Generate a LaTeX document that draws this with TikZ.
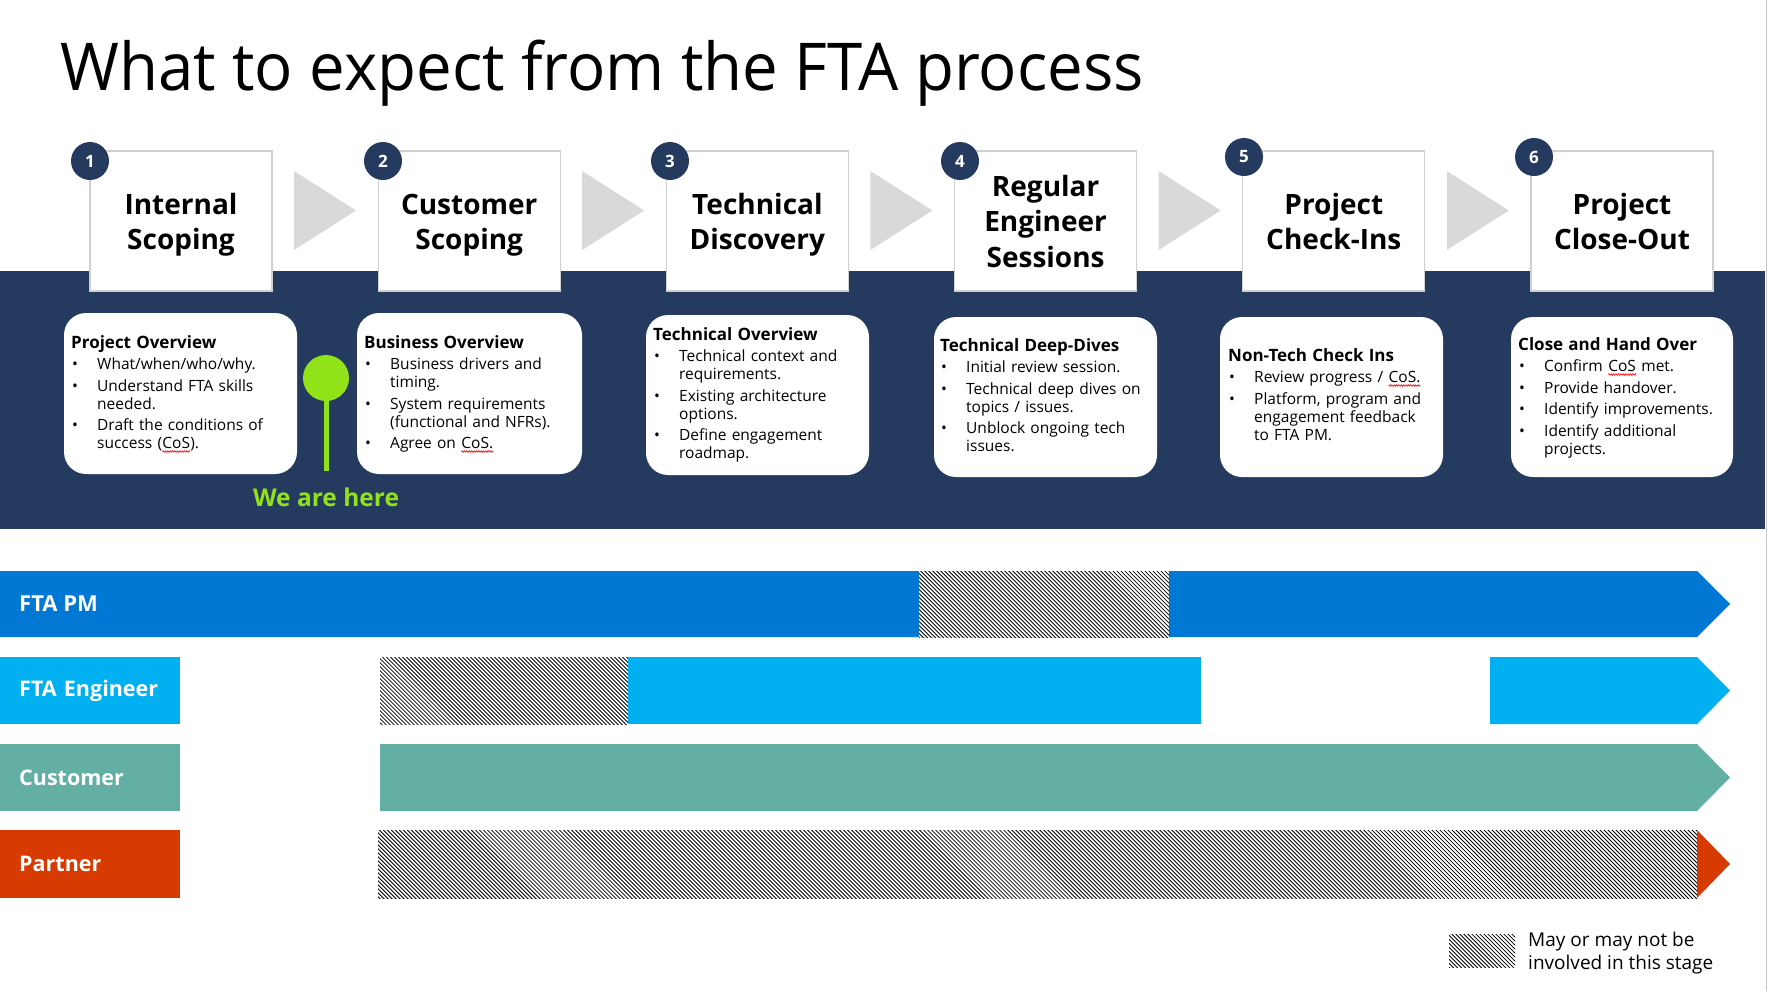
\documentclass[tikz,border=0pt]{standalone}
\usepackage{fontspec}
\usepackage{graphicx}
\setmainfont{Open Sans}
\usetikzlibrary{patterns.meta,decorations.pathmorphing}

\definecolor{navy}{HTML}{243A5E}
\definecolor{stepgrey}{HTML}{D0D0D0}
\definecolor{chev}{HTML}{D9D9D9}
\definecolor{pmblue}{HTML}{0078D4}
\definecolor{engblue}{HTML}{00B0F0}
\definecolor{custteal}{HTML}{63AFA4}
\definecolor{partred}{HTML}{D83B01}
\definecolor{lime}{HTML}{92E21A}
\definecolor{edgegrey}{HTML}{C8C8C8}

\newcommand\fsz[2]{\fontsize{#1}{#2}\selectfont}
% bullet item with hanging indent; \nl breaks a line inside an item
\newcommand\bitem[1]{\par\hangindent=26pt\hangafter=1\noindent\makebox[26pt][l]{\hspace{1pt}\textbullet}#1}
\newcommand\nl{\hfil\break}
% word with a red wavy proofing underline
\newcommand\squig[1]{\tikz[baseline=(sqw.base), x=1pt, y=1pt]{%
  \node[inner sep=0pt, outer sep=0pt] (sqw) {#1};
  \draw[red, line width=0.6pt, decorate, decoration={zigzag, amplitude=0.8pt, segment length=2.4pt}]
    ([yshift=-3pt]sqw.base west) -- ([yshift=-3pt]sqw.base east);}}

\tikzset{
  stepbox/.style={draw=stepgrey, line width=1.2pt, fill=white, minimum width=182pt,
    minimum height=140pt, inner sep=0pt},
  steptitle/.style={anchor=base, inner sep=0pt, text width=180pt, align=center,
    font=\bfseries\fsz{28}{35}},
  numdot/.style={circle, fill=navy, minimum size=38pt, inner sep=0pt,
    text=white, font=\bfseries\fsz{17}{20}},
  chevron/.style={fill=chev},
  descbox/.style={fill=white, rounded corners=22pt},
  desctext/.style={anchor=base west, inner sep=0pt, text width=218pt, align=left,
    font=\fsz{15.5}{18}\setlength\parskip{3.5pt}},
  hatch/.style={pattern={Lines[angle=-45,distance=2.83pt,line width=0.85pt]}, pattern color=black},
  lanelbl/.style={anchor=north west, minimum width=180pt, minimum height=67pt,
    inner xsep=19pt, text width=142pt, align=left, text=white,
    font=\bfseries\fsz{21.5}{25}},
}

\begin{document}
\begin{tikzpicture}[x=1pt,y=-1pt]
\useasboundingbox (0,0) rectangle (1768,991);
\fill[white] (0,0) rectangle (1768,991);

% title
\node[anchor=base west, inner sep=0pt, font=\fsz{66}{70}] (title) at (60,90)
  {\scalebox{0.963}[1]{What to expect from the FTA process}};

% dark band behind the stages
\fill[navy] (0,271) rectangle (1765,529);

% chevrons between stages
\foreach \i in {0,...,4} {
  \pgfmathsetmacro\bx{294+288.2*\i}
  \fill[chevron] (\bx,171) -- (\bx+62,210.5) -- (\bx,250) -- cycle;
}

% stage boxes
\node[stepbox] (s1) at (181,221) {};
\node[stepbox] (s2) at (469.2,221) {};
\node[stepbox] (s3) at (757.4,221) {};
\node[stepbox] (s4) at (1045.6,221) {};
\node[stepbox] (s5) at (1333.8,221) {};
\node[stepbox] (s6) at (1622,221) {};

\node[steptitle] (h1) at (181,214) {Internal\\Scoping};
\node[steptitle] (h2) at (469.2,214) {Customer\\Scoping};
\node[steptitle] (h3) at (757.4,214) {Technical\\Discovery};
\node[steptitle, font=\bfseries\fsz{28}{35.5}] (h4) at (1045.6,196) {Regular\\Engineer\\Sessions};
\node[steptitle] (h5) at (1333.8,214) {Project\\Check-Ins};
\node[steptitle] (h6) at (1622,214) {Project\\Close-Out};

% stage numbers
\node[numdot] (n1) at (90,161) {1};
\node[numdot] (n2) at (383,161) {2};
\node[numdot] (n3) at (670,161) {3};
\node[numdot] (n4) at (960,161) {4};
\node[numdot] (n5) at (1244,157) {5};
\node[numdot] (n6) at (1534,157) {6};

% stage description cards
\fill[descbox] (64,313) rectangle (297,474);
\fill[descbox] (357,313) rectangle (582,474);
\fill[descbox] (646,315) rectangle (869,475);
\fill[descbox] (934,317) rectangle (1157,477);
\fill[descbox] (1220,317) rectangle (1443,477);
\fill[descbox] (1511,317) rectangle (1733,477);

\node[desctext] (t1) at (71,348) {{\bfseries\fsz{17}{18}Project Overview}
  \bitem{What/when/who/why.}
  \bitem{Understand FTA skills\nl needed.}
  \bitem{Draft the conditions of\nl success (\squig{CoS}).}\par};
\node[desctext] (t2) at (364,348) {{\bfseries\fsz{17}{18}Business Overview}
  \bitem{Business drivers and\nl timing.}
  \bitem{System requirements\nl (functional and NFRs).}
  \bitem{Agree on \squig{CoS.}}\par};
\node[desctext] (t3) at (653,340) {{\bfseries\fsz{17}{18}Technical Overview}
  \bitem{Technical context and\nl requirements.}
  \bitem{Existing architecture\nl options.}
  \bitem{Define engagement\nl roadmap.}\par};
\node[desctext] (t4) at (940,351) {{\bfseries\fsz{17}{18}Technical Deep-Dives}
  \bitem{Initial review session.}
  \bitem{Technical deep dives on\nl topics / issues.}
  \bitem{Unblock ongoing tech\nl issues.}\par};
\node[desctext] (t5) at (1228,361) {{\bfseries\fsz{17}{18}Non-Tech Check Ins}
  \bitem{Review progress / \squig{CoS.}}
  \bitem{Platform, program and\nl engagement feedback\nl to FTA PM.}\par};
\node[desctext] (t6) at (1518,350) {{\bfseries\fsz{17}{18}Close and Hand Over}
  \bitem{Confirm \squig{CoS} met.}
  \bitem{Provide handover.}
  \bitem{Identify improvements.}
  \bitem{Identify additional\nl projects.}\par};

% current position marker
\node[circle, fill=lime, minimum size=46pt, inner sep=0pt] (here) at (326,378) {};
\coordinate (herefoot) at (326,471);
\draw[lime, line width=5pt] (here.center) -- (herefoot);
\node[anchor=center, inner sep=0pt, text=lime, font=\bfseries\fsz{24.5}{26}] (herelbl) at (326,497) {We are here};

% ---- swimlanes ----
% FTA PM
\fill[pmblue] (0,571) -- (1697,571) -- (1730,604) -- (1697,637) -- (0,637) -- cycle;
\fill[white] (919,571) rectangle (1169,637);
\fill[hatch] (919,571) rectangle (1169,637);
\node[anchor=west, inner sep=0pt, text=white, font=\bfseries\fsz{22}{25}] (lblpm) at (19,604) {FTA PM};

% FTA Engineer
\node[lanelbl, fill=engblue] (lbleng) at (0,657) {FTA Engineer};
\fill[hatch] (380,657) rectangle (628,724);
\fill[engblue] (628,657) rectangle (1201,724);
\fill[engblue] (1490,657) -- (1697,657) -- (1730,690.5) -- (1697,724) -- (1490,724) -- cycle;

% Customer
\node[lanelbl, fill=custteal] (lblcust) at (0,744) {Customer};
\fill[custteal] (380,744) -- (1697,744) -- (1730,777.5) -- (1697,811) -- (380,811) -- cycle;

% Partner
\node[lanelbl, fill=partred, minimum width=179pt, minimum height=68pt] (lblpart) at (0,830) {Partner};
\fill[hatch] (378,830) rectangle (1697,898);
\fill[partred] (1697,830) -- (1730,864) -- (1697,898) -- cycle;

% legend
\fill[hatch] (1449,934) rectangle (1515,967);
\node[anchor=west, inner sep=0pt, align=left, font=\fsz{19}{23}] (legend) at (1528,953.5) {May or may not be\\involved in this stage};

% slide edge
\draw[edgegrey, line width=1.5pt] (1766.5,0) -- (1766.5,991);
\end{tikzpicture}
\end{document}
